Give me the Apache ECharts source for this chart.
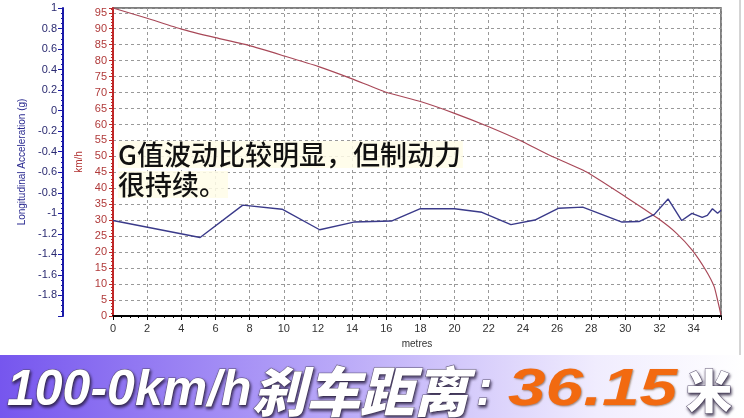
<!DOCTYPE html>
<html>
<head>
<meta charset="utf-8">
<script src="https://cdn.jsdelivr.net/npm/echarts@6/dist/echarts.min.js"></script>
<style>
html,body{margin:0;padding:0;background:#fff;}
#c{width:744px;height:418px;}
</style>
</head>
<body>
<div id="c"></div>
<script>
// distance (metres) for acceleration trace
var distAccel = [0, 5.1, 7.6, 9.9, 12.1, 14.1, 16.3, 18.0, 20.0, 21.6, 23.3, 24.7, 26.1, 27.5, 29.8, 30.8, 31.7, 32.5, 33.3, 33.9, 34.5, 34.8, 35.1, 35.4, 35.6];
// longitudinal acceleration (g)
var accel = [-1.07, -1.235, -0.92, -0.96, -1.16, -1.085, -1.075, -0.955, -0.955, -0.99, -1.11, -1.065, -0.95, -0.94, -1.085, -1.08, -1.01, -0.86, -1.07, -1.0, -1.04, -1.02, -0.955, -1.0, -0.97];
// distance (metres) for speed trace
var distSpeed = [0, 2, 4, 6, 8, 10, 12, 14, 16, 18, 20, 22, 24, 25.5, 27.7, 30.0, 31.9, 33.0, 33.9, 34.7, 35.2, 35.4, 35.6];
// speed (km/h)
var speed = [96.5, 93.3, 89.9, 87.2, 84.7, 81.5, 78.2, 74.3, 70.1, 67.2, 63.5, 59.3, 54.6, 50.5, 45.2, 37.4, 30.6, 25.9, 20.7, 14.4, 9.2, 5.0, 0.3];

var xName = 'metres';
var speedName = 'km/h';
var accelName = 'Longitudinal Acceleration (g)';
var note1 = 'G值波动比较明显，但制动力';
var note2 = '很持续。';
var bannerA = '100-0km/h';
var bannerB = '刹车距离';
var bannerC = ':';
var bannerD = '36.15';
var bannerE = '米';

function pairs(xs, ys){ return xs.map(function(x,i){ return [x, ys[i]]; }); }

var chart = echarts.init(document.getElementById('c'), null, {renderer:'canvas'});
var lblFont = 'Liberation Sans';
var shadow = {textShadowColor:'rgba(30,20,50,0.8)', textShadowBlur:3, textShadowOffsetX:1, textShadowOffsetY:2, stroke:'rgba(90,80,110,0.9)', lineWidth:1};
function st(o){ var r={}; for (var k in shadow) r[k]=shadow[k]; for (var k2 in o) r[k2]=o[k2]; return r; }
var option = {
  backgroundColor: '#fff',
  animation: false,
  grid: {left:113, top:8, width:608, height:308, show:true, borderColor:'#555', borderWidth:1.5, backgroundColor:'transparent'},
  xAxis: {
    type:'value', min:0, max:35.6, interval:2,
    name: xName, nameLocation:'middle', nameGap:22,
    nameTextStyle:{fontFamily:lblFont, fontSize:10, color:'#333'},
    axisLine:{show:true, lineStyle:{color:'#000', width:2}},
    axisTick:{show:true, length:4, lineStyle:{color:'#000'}},
    minorTick:{show:true, splitNumber:4, length:2, lineStyle:{color:'#000'}},
    axisLabel:{fontFamily:lblFont, fontSize:11, color:'#333', margin:7,
      formatter:function(v){ return (Math.abs(v - Math.round(v)) < 1e-6 && Math.round(v) % 2 === 0) ? String(Math.round(v)) : ''; }},
    splitLine:{show:true, lineStyle:{color:'#999', type:[3,3], width:1}}
  },
  yAxis: [
    {
      type:'value', min:0, max:96.5, interval:5, position:'left',
      name: speedName, nameLocation:'middle', nameGap:25, nameRotate:90,
      nameTextStyle:{fontFamily:lblFont, fontSize:10, color:'#b03030'},
      axisLine:{show:true, lineStyle:{color:'#c02828', width:2}},
      axisTick:{show:true, length:4, lineStyle:{color:'#c02828'}},
      minorTick:{show:true, splitNumber:5, length:2, lineStyle:{color:'#c02828'}},
      axisLabel:{fontFamily:lblFont, fontSize:11, color:'#b03a3a', margin:6,
        formatter:function(v){ return (Math.abs(v % 5) < 1e-6) ? String(v) : ''; }},
      splitLine:{show:true, lineStyle:{color:'#999', type:[3,3], width:1}}
    },
    {
      type:'value', min:-2, max:1, interval:0.2, position:'left', offset:50,
      name: accelName, nameLocation:'middle', nameGap:28, nameRotate:90,
      nameTextStyle:{fontFamily:lblFont, fontSize:10, color:'#2a2a90'},
      axisLine:{show:true, lineStyle:{color:'#1a1aa8', width:2}},
      axisTick:{show:true, length:5, lineStyle:{color:'#1a1aa8'}},
      minorTick:{show:true, splitNumber:4, length:2, lineStyle:{color:'#1a1aa8'}},
      axisLabel:{fontFamily:lblFont, fontSize:11, color:'#2a2a70', margin:6,
        formatter:function(v){ if (v < -1.99) return ''; return String(Number(v.toFixed(1))); }},
      splitLine:{show:false}
    }
  ],
  series: [
    {type:'line', yAxisIndex:0, data:pairs(distSpeed, speed), symbol:'none', smooth:0.15,
      lineStyle:{color:'#a84858', width:1.2}},
    {type:'line', yAxisIndex:1, data:pairs(distAccel, accel), symbol:'none',
      lineStyle:{color:'#3a3a8a', width:1.4}}
  ],
  graphic: [
    {type:'line', shape:{x1:740, y1:0, x2:740, y2:355}, style:{stroke:'#aaa', lineWidth:1}},
    {type:'text', left:118, top:141, z:100, style:{text:note1, font:'500 27px "Noto Sans CJK SC"', fill:'#111', backgroundColor:'rgba(255,253,232,0.85)', padding:[0,2,0,0]}},
    {type:'text', left:118, top:171, z:100, style:{text:note2, font:'500 27px "Noto Sans CJK SC"', fill:'#111', backgroundColor:'rgba(255,253,232,0.85)', padding:[0,2,0,0]}},
    {type:'rect', shape:{x:0, y:355, width:744, height:63}, z:50,
      style:{fill:new echarts.graphic.LinearGradient(0,0,1,0,[{offset:0,color:'#7656ee'},{offset:0.45,color:'#b9a8f8'},{offset:0.8,color:'#f0ecfe'},{offset:1,color:'#ffffff'}])}},
    {type:'text', x:7, y:391, z:60, style:st({text:bannerA, font:'italic bold 50px "Liberation Sans"', fill:'#fff', textVerticalAlign:'middle'})},
    {type:'text', x:252, y:391, z:60, style:st({text:bannerB, font:'italic 900 54px "Noto Sans CJK SC"', fill:'#fff', textVerticalAlign:'middle'})},
    {type:'text', x:476, y:391, z:60, style:st({text:bannerC, font:'italic bold 50px "Liberation Sans"', fill:'#fff', textVerticalAlign:'middle'})},
    {type:'text', x:508, y:391, z:60, scaleX:1.3, style:{text:bannerD, font:'italic bold 52px "Liberation Sans"', fill:'#f26a10', textVerticalAlign:'middle',
      textShadowColor:'rgba(80,40,0,0.5)', textShadowBlur:2, textShadowOffsetX:1, textShadowOffsetY:1}},
    {type:'text', x:686, y:391, z:60, style:st({text:bannerE, font:'900 46px "Noto Sans CJK SC"', fill:'#fff', textVerticalAlign:'middle'})}
  ]
};
chart.setOption(option);
</script>
</body>
</html>
